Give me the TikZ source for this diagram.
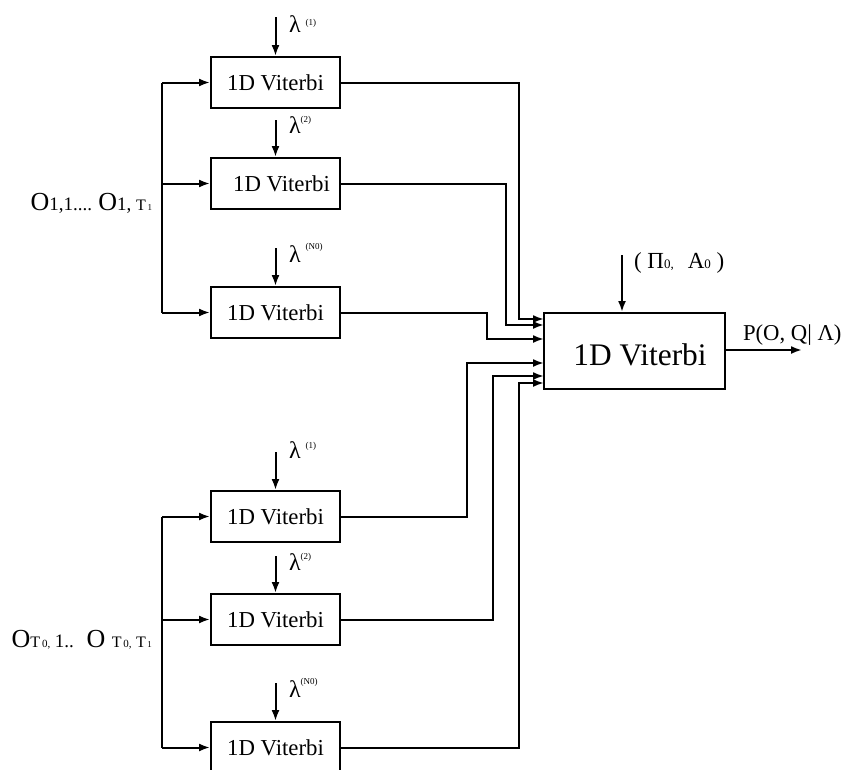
\documentclass[tikz,border=0pt]{standalone}
\usepackage{fontspec}
\setmainfont{Liberation Serif}
\usetikzlibrary{arrows.meta}
\newcommand\myfs[1]{\fontsize{#1}{#1}\selectfont}
\newcommand\mylam[3]{\myfs{24}λ\hspace{#1pt}\raisebox{#2pt}{\myfs{9}#3}}
\begin{document}
\begin{tikzpicture}[x=1pt,y=-1pt,
  line width=2pt,
  arr/.style={-{Latex[length=11pt,width=8pt]}},
  vbox/.style={draw,minimum width=129pt,minimum height=51pt,inner sep=0pt,font=\myfs{22.8}},
  bigbox/.style={draw,minimum width=181pt,minimum height=76pt,inner sep=0pt},
  lab/.style={inner sep=0pt,anchor=base west}]
\useasboundingbox (0,0) rectangle (846,769);
\clip (0,0) rectangle (846,769);
% small boxes
\node[vbox] (b1) at (275.5,82.5) {1D Viterbi};
\node[vbox] (b2) at (275.5,183.5) {\hspace{12pt}1D Viterbi};
\node[vbox] (b3) at (275.5,312.5) {1D Viterbi};
\node[vbox] (b4) at (275.5,516.5) {1D Viterbi};
\node[vbox] (b5) at (275.5,619.5) {1D Viterbi};
\node[vbox] (b6) at (275.5,747.5) {1D Viterbi};
% big box
\node[bigbox] (big) at (634.5,351) {};
\node[inner sep=0pt,font=\myfs{31.4}] (bigt) at (640,355) {1D Viterbi};
% lambda inputs
\coordinate (l1) at (275.5,17);
\coordinate (l2) at (275.5,120);
\coordinate (l3) at (275.5,248);
\coordinate (l4) at (275.5,452);
\coordinate (l5) at (275.5,556);
\coordinate (l6) at (275.5,683);
\foreach \i in {1,...,6} \draw[arr] (l\i) -- (b\i.north);
\node[lab] (t1) at (288,32) {\mylam{5}{7}{(1)}};
\node[lab] (t2) at (288,133) {\mylam{0}{11}{(2)}};
\node[lab] (t3) at (288,262) {\mylam{5}{13}{(N0)}};
\node[lab] (t4) at (288,458) {\mylam{5}{10}{(1)}};
\node[lab] (t5) at (288,570) {\mylam{0}{11}{(2)}};
\node[lab] (t6) at (288,697) {\mylam{0}{13}{(N0)}};
% left buses
\coordinate (busx) at (162,0);
\draw (b1.west -| busx) -- (b3.west -| busx);
\draw (b4.west -| busx) -- (b6.west -| busx);
\foreach \i in {1,...,6} \draw[arr] (b\i.west -| busx) -- (b\i.west);
\node[inner sep=0pt,anchor=base east] (o1) at (153,210)
  {\myfs{26}O\myfs{19}1,1.... \myfs{26}O\myfs{19}1, \myfs{16}T\myfs{9}\,1};
\node[inner sep=0pt,anchor=base east] (o2) at (153,647)
  {\myfs{26}O\myfs{16}T\myfs{11}\,0,\, \myfs{19}1..\,\, \myfs{26}O \myfs{16}T\myfs{11}\,0,\, \myfs{16}T\myfs{9}\,1};
% connections to big box
\coordinate (k1) at (519,319); \coordinate (e1) at (544,319);
\coordinate (k2) at (506,325); \coordinate (e2) at (544,325);
\coordinate (k3) at (487,339); \coordinate (e3) at (544,339);
\coordinate (k4) at (467,363); \coordinate (e4) at (544,363);
\coordinate (k5) at (493,376); \coordinate (e5) at (544,376);
\coordinate (k6) at (519,383); \coordinate (e6) at (544,383);
\foreach \i in {1,...,6} \draw[arr] (b\i.east) -| (k\i) -- (e\i);
% top input and output
\coordinate (pin) at (622,255);
\draw[arr] (pin) -- (big.north -| pin);
\node[lab] (pl) at (633,268) {\myfs{23}( Π\myfs{13}0,\hspace{14pt}\myfs{23}A\myfs{13}0\myfs{23} )};
\coordinate (pout) at (802,350);
\draw[arr] (big.east |- pout) -- (pout);
\node[lab] (po) at (742,340) {\myfs{22.7}P(O, Q| Λ)};
\end{tikzpicture}
\end{document}
